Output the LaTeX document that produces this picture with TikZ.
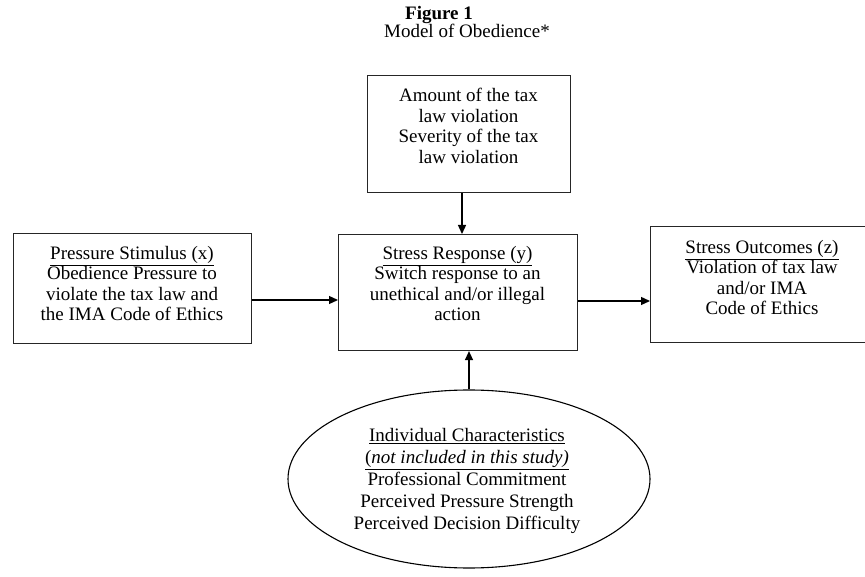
\documentclass[tikz,border=0pt]{standalone}
\usepackage{fontspec}
\setmainfont{Liberation Serif}
\usetikzlibrary{shapes.geometric,arrows.meta}
\begin{document}
\begin{tikzpicture}[x=1pt,y=-1pt,
  box/.style={draw=black!85, line width=1.1pt, inner sep=0pt, anchor=north west},
  txt/.style={align=center, inner sep=0pt, anchor=north, font=\fontsize{19}{20.5}\selectfont},
  arr/.style={line width=1.3pt, -{Triangle[length=9pt,width=8pt]}}]
\useasboundingbox (0,0) rectangle (865,577);
\clip (0,0) rectangle (865,577);
% titles
\node[inner sep=0pt, font=\fontsize{19}{20}\selectfont\bfseries] (title) at (439,15) {Figure 1};
\node[inner sep=0pt, font=\fontsize{19}{20}\selectfont] (subtitle) at (467,31) {Model of Obedience*};
% boxes
\node[box, minimum width=203pt, minimum height=117pt] (T) at (367,75) {};
\node[box, minimum width=239pt, minimum height=116pt] (M) at (338,234) {};
\node[box, minimum width=238pt, minimum height=110pt] (L) at (13,233) {};
\node[box, minimum width=224pt, minimum height=116pt] (R) at (650,226) {};
\node[draw=black, line width=1.1pt, ellipse, minimum width=362pt, minimum height=178pt, inner sep=0pt] (E) at (469,479) {};
% texts
\node[txt] (Tt) at (468.5,88) {Amount of the tax\\law violation\\Severity of the tax\\law violation};
\node[txt] (Mt) at (457.5,246) {\underline{Stress Response (y)}\\Switch response to an\\unethical and/or illegal\\action};
\node[txt] (Lt) at (132,246) {\underline{Pressure Stimulus (x)}\\Obedience Pressure to\\violate the tax law and\\the IMA Code of Ethics};
\node[txt] (Rt) at (762,240) {\underline{Stress Outcomes (z)}\\Violation of tax law\\and/or IMA\\Code of Ethics};
\node[txt, font=\fontsize{19}{22}\selectfont] (Et) at (467,428) {\underline{Individual Characteristics}\\\underline{(\textit{not included in this study)}}\\Professional Commitment\\Perceived Pressure Strength\\Perceived Decision Difficulty};
% connectors
\coordinate (h1) at (0,300);
\coordinate (h2) at (0,301);
\coordinate (v1) at (462,0);
\draw[arr] (L.east |- h1) -- (M.west |- h1);
\draw[arr] (M.east |- h2) -- (R.west |- h2);
\draw[arr] (T.south -| v1) -- (M.north -| v1);
\draw[arr] (E.north) -- (M.south -| E.north);
\end{tikzpicture}
\end{document}
